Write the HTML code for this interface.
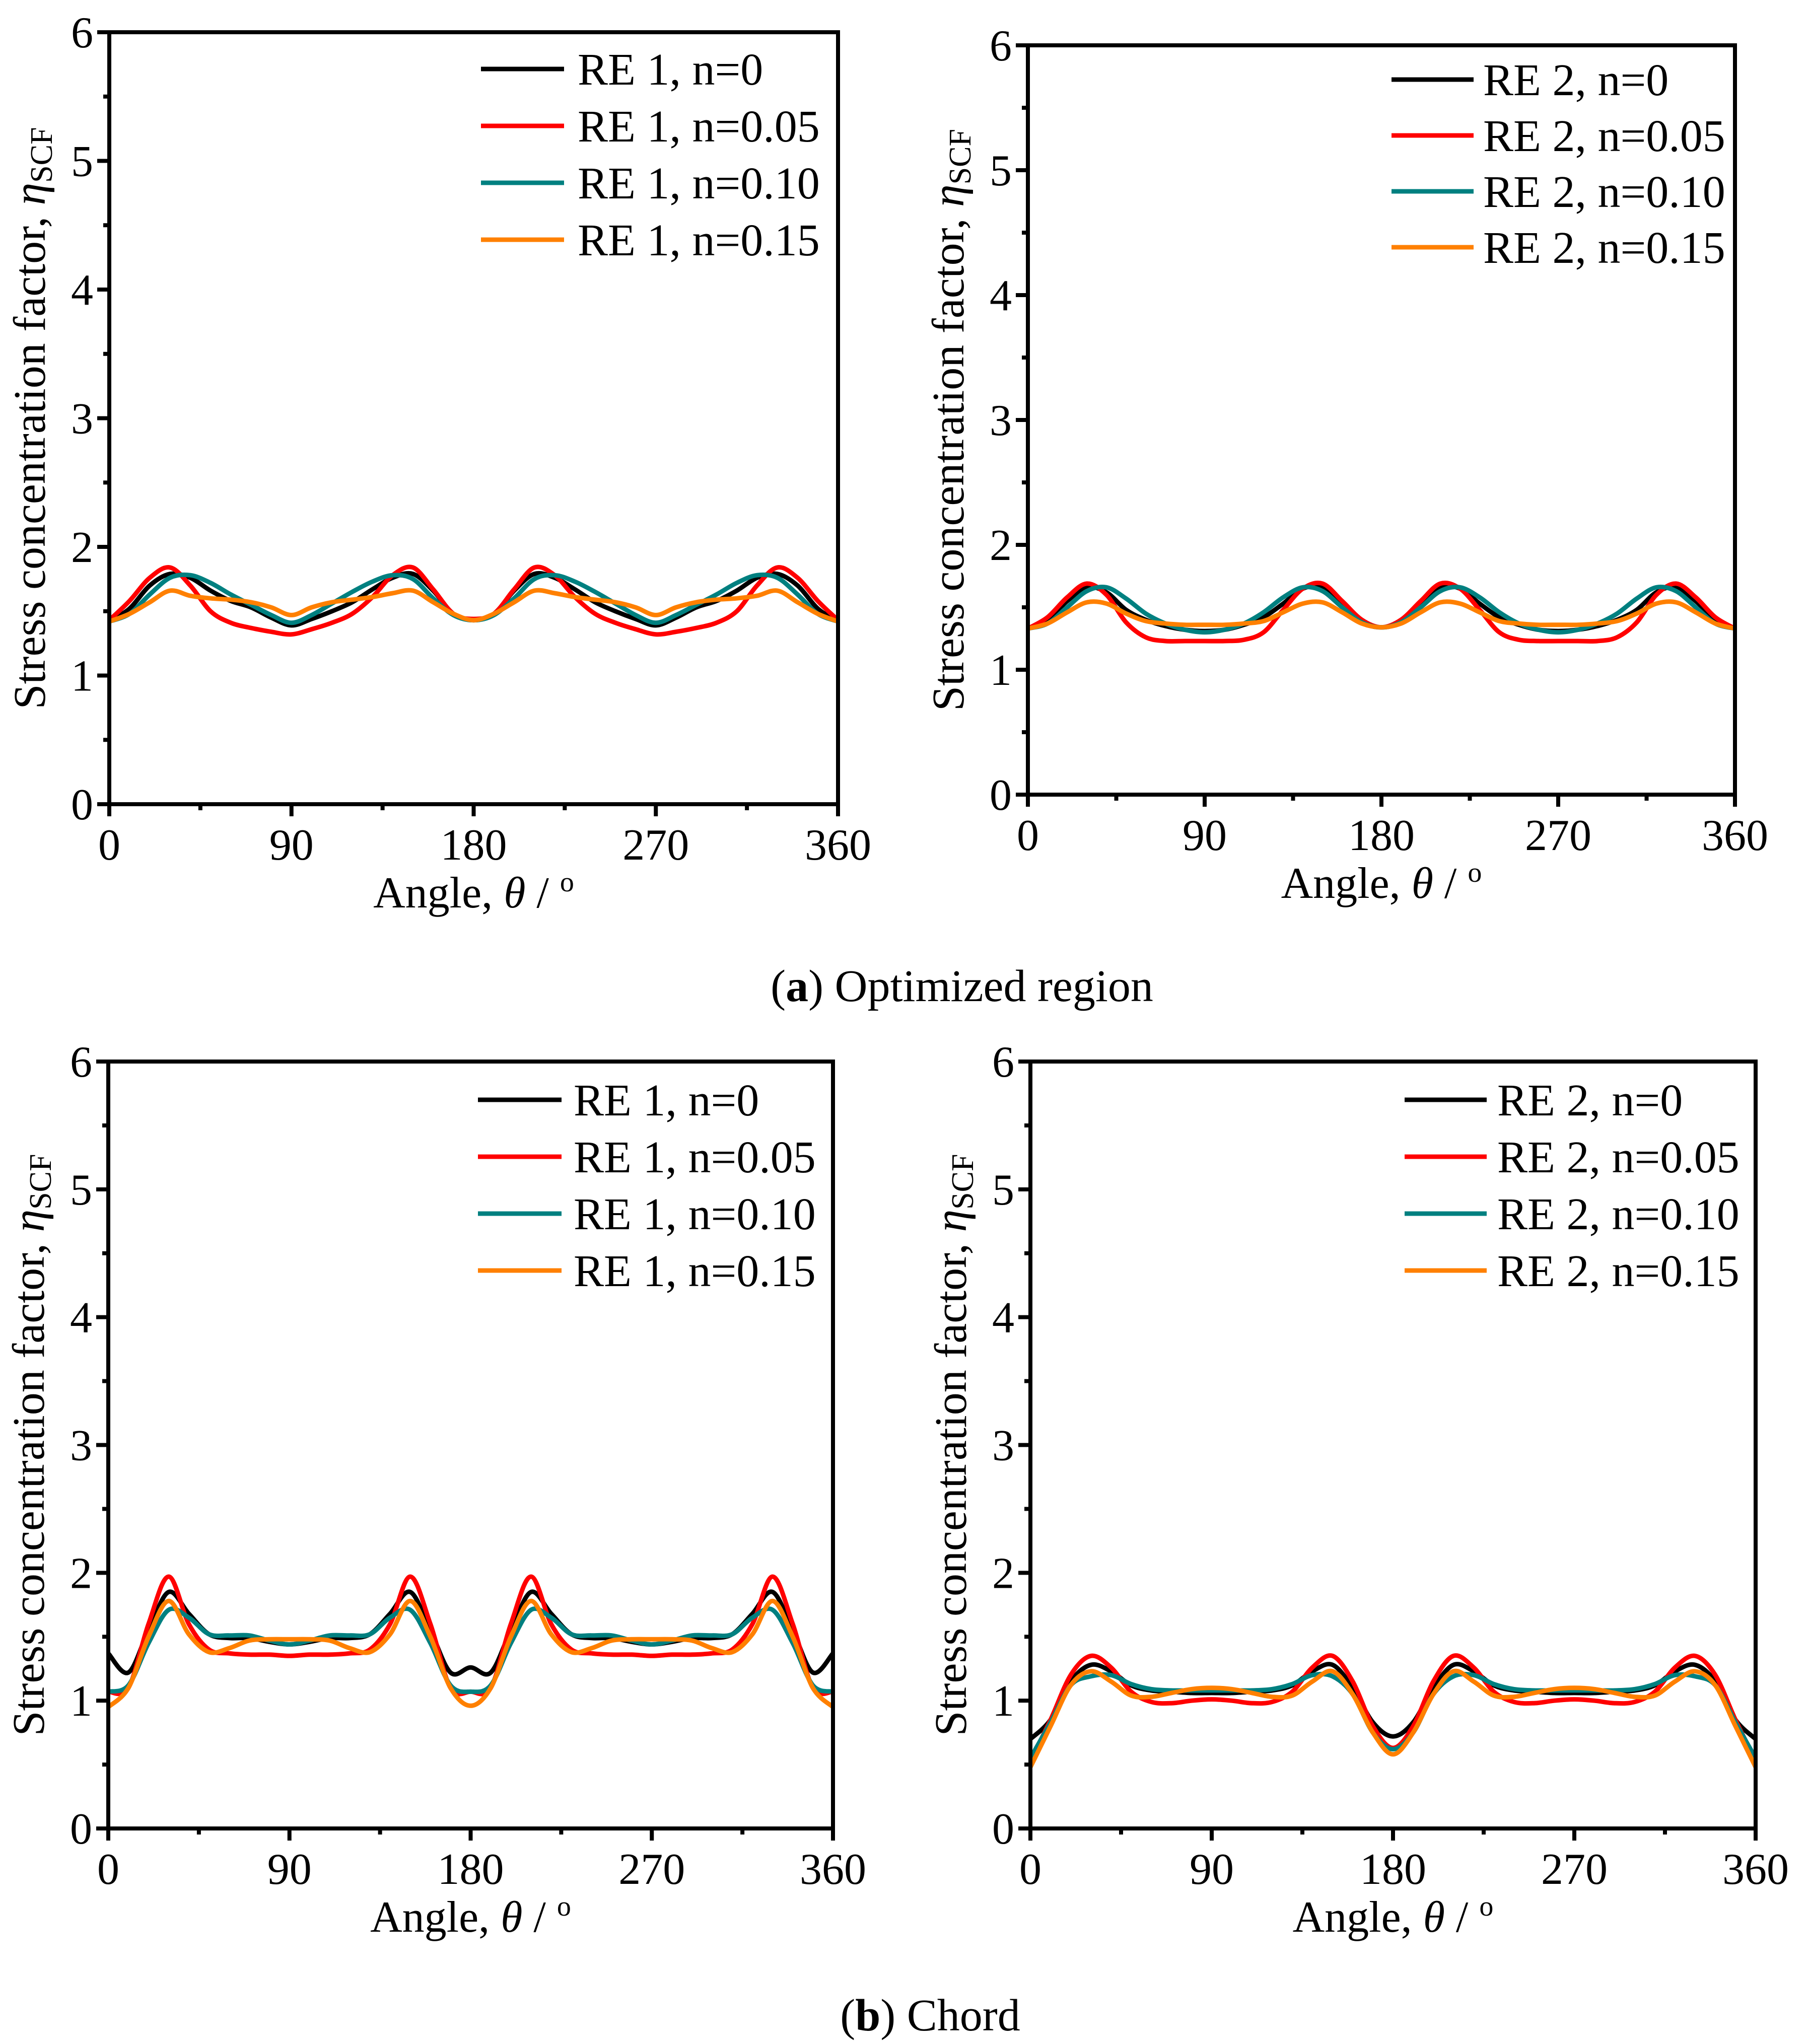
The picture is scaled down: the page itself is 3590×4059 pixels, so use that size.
<!DOCTYPE html>
<html><head><meta charset="utf-8">
<style>
html,body{margin:0;padding:0;background:#fff;}
svg{display:block;font-family:"Liberation Serif","Times New Roman",serif;}
</style></head>
<body>
<svg id="fig" width="3590" height="4059" viewBox="0 0 3590 4059" xmlns="http://www.w3.org/2000/svg">
<text x="1910" y="1988" font-size="90" text-anchor="middle">(<tspan font-weight="bold">a</tspan>) Optimized region</text>
<text x="1847" y="4032" font-size="90" text-anchor="middle">(<tspan font-weight="bold">b</tspan>) Chord</text>
</svg>
<script>
const angles = [0,10,20,30,40,50,60,70,80,90,100,110,120,130,140,150,160,170,180,190,200,210,220,230,240,250,260,270,280,290,300,310,320,330,340,350,360];
const xTicks = [0,90,180,270,360];
const yTicks = [0,1,2,3,4,5,6];
const seriesNames = ["n=0","n=0.05","n=0.10","n=0.15"];
const colors = ["#000000","#ff0000","#008080","#ff8000"];

// Panel A: RE 1 optimized region
const a_n0  = [1.42,1.52,1.70,1.79,1.76,1.66,1.58,1.53,1.45,1.39,1.44,1.50,1.57,1.67,1.76,1.79,1.66,1.48,1.43,1.48,1.66,1.79,1.76,1.67,1.57,1.50,1.44,1.39,1.45,1.53,1.58,1.66,1.76,1.79,1.70,1.52,1.42];
const a_n05 = [1.43,1.58,1.76,1.84,1.70,1.50,1.41,1.37,1.34,1.32,1.36,1.41,1.48,1.61,1.78,1.84,1.67,1.48,1.44,1.48,1.67,1.84,1.78,1.61,1.48,1.41,1.36,1.32,1.34,1.37,1.41,1.50,1.70,1.84,1.76,1.58,1.43];
const a_n10 = [1.42,1.48,1.63,1.76,1.78,1.72,1.63,1.55,1.47,1.41,1.47,1.56,1.65,1.73,1.78,1.75,1.60,1.47,1.43,1.47,1.60,1.75,1.78,1.73,1.65,1.56,1.47,1.41,1.47,1.55,1.63,1.72,1.78,1.76,1.63,1.48,1.42];
const a_n15 = [1.42,1.48,1.57,1.66,1.62,1.60,1.59,1.57,1.53,1.47,1.53,1.57,1.59,1.61,1.64,1.66,1.57,1.48,1.43,1.48,1.57,1.66,1.64,1.61,1.59,1.57,1.53,1.47,1.53,1.57,1.59,1.60,1.62,1.66,1.57,1.48,1.42];

// Panel B: RE 2 optimized region
const b_n0  = [1.33,1.40,1.55,1.66,1.62,1.48,1.40,1.35,1.32,1.31,1.32,1.36,1.42,1.53,1.65,1.66,1.52,1.38,1.34,1.38,1.52,1.66,1.65,1.53,1.42,1.36,1.32,1.31,1.32,1.35,1.40,1.48,1.62,1.66,1.55,1.40,1.33];
const b_n05 = [1.33,1.42,1.58,1.69,1.60,1.38,1.26,1.23,1.23,1.23,1.23,1.24,1.30,1.48,1.65,1.69,1.55,1.40,1.34,1.40,1.55,1.69,1.65,1.48,1.30,1.24,1.23,1.23,1.23,1.23,1.26,1.38,1.60,1.69,1.58,1.42,1.33];
const b_n10 = [1.33,1.37,1.50,1.63,1.66,1.57,1.45,1.37,1.32,1.30,1.32,1.37,1.46,1.58,1.66,1.63,1.50,1.38,1.34,1.38,1.50,1.63,1.66,1.58,1.46,1.37,1.32,1.30,1.32,1.37,1.45,1.57,1.66,1.63,1.50,1.37,1.33];
const b_n15 = [1.33,1.37,1.46,1.54,1.53,1.45,1.39,1.37,1.36,1.36,1.36,1.37,1.39,1.46,1.53,1.54,1.46,1.37,1.34,1.37,1.46,1.54,1.53,1.46,1.39,1.37,1.36,1.36,1.36,1.37,1.39,1.45,1.53,1.54,1.46,1.37,1.33];

// Panel C: RE 1 chord
const c_n0  = [1.37,1.22,1.55,1.85,1.68,1.52,1.49,1.49,1.46,1.44,1.46,1.49,1.49,1.52,1.68,1.85,1.55,1.22,1.26,1.22,1.55,1.85,1.68,1.52,1.49,1.49,1.46,1.44,1.46,1.49,1.49,1.52,1.68,1.85,1.55,1.22,1.37];
const c_n05 = [1.07,1.10,1.60,1.97,1.60,1.40,1.37,1.36,1.36,1.35,1.36,1.36,1.37,1.40,1.60,1.97,1.60,1.10,1.07,1.10,1.60,1.97,1.60,1.40,1.37,1.36,1.36,1.35,1.36,1.36,1.37,1.40,1.60,1.97,1.60,1.10,1.07];
const c_n10 = [1.07,1.12,1.45,1.71,1.65,1.52,1.51,1.51,1.47,1.44,1.47,1.51,1.51,1.52,1.65,1.71,1.45,1.12,1.07,1.12,1.45,1.71,1.65,1.52,1.51,1.51,1.47,1.44,1.47,1.51,1.51,1.52,1.65,1.71,1.45,1.12,1.07];
const c_n15 = [0.95,1.10,1.50,1.78,1.52,1.38,1.41,1.47,1.48,1.48,1.48,1.47,1.41,1.38,1.52,1.78,1.50,1.10,0.96,1.10,1.50,1.78,1.52,1.38,1.41,1.47,1.48,1.48,1.48,1.47,1.41,1.38,1.52,1.78,1.50,1.10,0.95];

// Panel D: RE 2 chord
const d_n0  = [0.70,0.85,1.15,1.28,1.23,1.12,1.08,1.07,1.06,1.06,1.06,1.07,1.08,1.12,1.23,1.28,1.10,0.83,0.72,0.83,1.10,1.28,1.23,1.12,1.08,1.07,1.06,1.06,1.06,1.07,1.08,1.12,1.23,1.28,1.15,0.85,0.70];
const d_n05 = [0.53,0.85,1.20,1.35,1.26,1.07,0.99,0.98,1.00,1.01,1.00,0.98,0.99,1.07,1.26,1.35,1.15,0.80,0.63,0.80,1.15,1.35,1.26,1.07,0.99,0.98,1.00,1.01,1.00,0.98,0.99,1.07,1.26,1.35,1.20,0.85,0.53];
const d_n10 = [0.55,0.83,1.12,1.19,1.20,1.13,1.09,1.08,1.08,1.08,1.08,1.08,1.09,1.13,1.20,1.19,1.05,0.75,0.62,0.75,1.05,1.19,1.20,1.13,1.09,1.08,1.08,1.08,1.08,1.08,1.09,1.13,1.20,1.19,1.12,0.83,0.55];
const d_n15 = [0.48,0.80,1.12,1.23,1.15,1.04,1.03,1.06,1.09,1.10,1.09,1.06,1.03,1.04,1.15,1.23,1.05,0.75,0.58,0.75,1.05,1.23,1.15,1.04,1.03,1.06,1.09,1.10,1.09,1.06,1.03,1.04,1.15,1.23,1.12,0.80,0.48];

const NS = "http://www.w3.org/2000/svg";
const svg = document.getElementById("fig");
function mk(tag, attrs, parent){
  const e = document.createElementNS(NS, tag);
  for (const k in attrs) e.setAttribute(k, attrs[k]);
  (parent||svg).appendChild(e);
  return e;
}
function smoothPath(pts){
  let d = "M" + pts[0][0].toFixed(1) + "," + pts[0][1].toFixed(1);
  for (let i=0;i<pts.length-1;i++){
    const p0=pts[Math.max(0,i-1)], p1=pts[i], p2=pts[i+1], p3=pts[Math.min(pts.length-1,i+2)];
    const c1=[p1[0]+(p2[0]-p0[0])/6, p1[1]+(p2[1]-p0[1])/6];
    const c2=[p2[0]-(p3[0]-p1[0])/6, p2[1]-(p3[1]-p1[1])/6];
    d += " C"+c1[0].toFixed(1)+","+c1[1].toFixed(1)+" "+c2[0].toFixed(1)+","+c2[1].toFixed(1)+" "+p2[0].toFixed(1)+","+p2[1].toFixed(1);
  }
  return d;
}

function panel(cfg){
  const {id,x0,x1,y0,y1,re,series,leg} = cfg;
  const g = mk("g",{});
  
  
  const xs = v => x0 + (v/360)*(x1-x0);
  const ys = v => y0 - (v/6)*(y0-y1);
  series.forEach((vals,si)=>{
    const pts = angles.map((a,i)=>[xs(a), ys(vals[i])]);
    const p = mk("path",{d:smoothPath(pts), fill:"none", stroke:colors[si], "stroke-width":9, "stroke-linejoin":"round"}, g);
    
    
  });
  const fr = mk("rect",{x:x0,y:y1,width:x1-x0,height:y0-y1,fill:"none",stroke:"#000","stroke-width":8}, g);
  
  
  for (let v=0; v<=360; v+=45){
    const major = v%90===0;
    mk("line",{x1:xs(v),x2:xs(v),y1:y0,y2:y0+(major?24:12),stroke:"#000","stroke-width":8}, g);
  }
  xTicks.forEach(v=>{
    const t = mk("text",{x:xs(v), y:y0+110, "font-size":88, "text-anchor":"middle"}, g);
    t.textContent = v;
    
    
  });
  for (let v=0; v<=6; v+=0.5){
    const major = Math.abs(v-Math.round(v))<1e-6;
    mk("line",{x1:x0,x2:x0-(major?24:12),y1:ys(v),y2:ys(v),stroke:"#000","stroke-width":8}, g);
  }
  yTicks.forEach(v=>{
    const t = mk("text",{x:x0-32, y:ys(v)+30, "font-size":88, "text-anchor":"end"}, g);
    t.textContent = v;
    
    
  });
  const xt = mk("text",{x:(x0+x1)/2, y:y0+205, "font-size":88, "text-anchor":"middle"}, g);
  
  
  xt.innerHTML = 'Angle, <tspan font-style="italic">θ</tspan> / <tspan dy="-32" font-size="56">o</tspan>';
  const cy = (y0+y1)/2;
  const yt = mk("text",{x:0, y:0, "font-size":90, "text-anchor":"middle", transform:"translate("+(x0-128)+","+cy+") rotate(-90)"}, g);
  
  
  yt.innerHTML = 'Stress concentration factor, <tspan font-style="italic">η</tspan><tspan dy="14" font-size="62">SCF</tspan>';
  seriesNames.forEach((n,si)=>{
    const yy = leg.y0 + si*leg.dy;
    const l = mk("line",{x1:leg.lx0,x2:leg.lx1,y1:yy,y2:yy,stroke:colors[si],"stroke-width":9}, g);
    
    
    const t = mk("text",{x:leg.tx, y:yy+31, "font-size":90}, g);
    t.textContent = "RE "+re+", "+n;
    
    
  });
}

panel({id:"panel-a-re1-optimized",x0:217,x1:1664,y0:1597,y1:64,re:1,series:[a_n0,a_n05,a_n10,a_n15],
  leg:{lx0:955,lx1:1120,tx:1147,y0:137,dy:113}});
panel({id:"panel-a-re2-optimized",x0:2041,x1:3445,y0:1578,y1:90,re:2,series:[b_n0,b_n05,b_n10,b_n15],
  leg:{lx0:2763,lx1:2926,tx:2945,y0:158,dy:111}});
panel({id:"panel-b-re1-chord",x0:215,x1:1654,y0:3631,y1:2108,re:1,series:[c_n0,c_n05,c_n10,c_n15],
  leg:{lx0:949,lx1:1115,tx:1139,y0:2184,dy:113}});
panel({id:"panel-b-re2-chord",x0:2046,x1:3486,y0:3631,y1:2108,re:2,series:[d_n0,d_n05,d_n10,d_n15],
  leg:{lx0:2789,lx1:2952,tx:2973,y0:2184,dy:113}});
</script>
</body></html>
